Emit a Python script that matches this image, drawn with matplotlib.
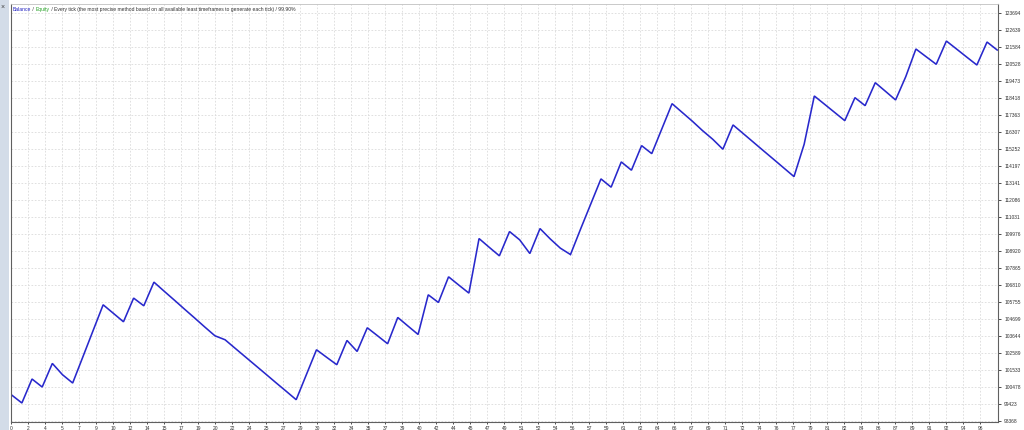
import numpy as np
import matplotlib.pyplot as plt
from matplotlib.patches import Rectangle

plt.rcParams['font.family'] = ['Liberation Sans', 'DejaVu Sans']

# balance after each trade
balance = [100000, 99508, 100994, 100498, 101960, 101260, 100746, 102360, 103980, 105595,
           105070, 104542, 106010, 105533, 106999, 106440, 105890, 105330, 104780, 104220,
           103675, 103428, 102895, 102365, 101835, 101305, 100770, 100245, 99712, 101260,
           102808, 102340, 101880, 103385, 102703, 104171, 103680, 103180, 104810, 104280,
           103756, 106215, 105738, 107329, 106820, 106320, 109701, 109160, 108630, 110135,
           109620, 108772, 110320, 109682, 109106, 108710, 110300, 111850, 113399, 112885,
           114451, 113937, 115461, 114965, 116513, 118062, 117517, 116972, 116390, 115857,
           115238, 116743, 116210, 115675, 115140, 114610, 114075, 113540, 115547, 118538,
           118030, 117520, 117009, 118434, 117939, 119363, 118830, 118292, 119735, 121450,
           120975, 120502, 121945, 121450, 120950, 120458, 121883, 121388]

x_labels = ['0', '2', '4', '5', '7', '9', '10', '12', '14', '15', '17', '19', '20', '22',
            '24', '25', '27', '29', '30', '32', '34', '35', '37', '39', '40', '42', '44',
            '45', '47', '49', '51', '52', '54', '56', '57', '59', '61', '62', '64', '66',
            '67', '69', '71', '72', '74', '76', '77', '79', '81', '82', '84', '86', '87',
            '89', '91', '92', '94', '96']

y_labels = ['98368', '99423', '100478', '101533', '102589', '103644', '104699', '105755',
            '106810', '107865', '108920', '109976', '111031', '112086', '113141', '114197',
            '115252', '116307', '117363', '118418', '119473', '120528', '121584', '122639',
            '123694']

title_parts = [('Balance', '#2020c0'), (' / ', '#303030'), ('Equity', '#20a020'),
               (' / Every tick (the most precise method based on all available least '
                'timeframes to generate each tick) / 99.90%', '#303030')]

W, H = 1024, 430
fig = plt.figure(figsize=(W / 100, H / 100), dpi=100)
fig.patch.set_facecolor('white')

# window frame strip on the left
fig.patches.append(Rectangle((0, 0), 9 / W, 1, transform=fig.transFigure,
                             facecolor='#d3dce8', edgecolor='none', zorder=0))
fig.text(3 / W, 1 - 7 / H, '×', fontsize=5, color='#404040', ha='center', va='center')

ax = fig.add_axes([11 / W, 8 / H, (998 - 11) / W, (422 - 4) / H])

trades = np.arange(len(balance))
ax.plot(trades, balance, color='#2828cc', lw=1.15, solid_joinstyle='miter')

ax.set_xlim(-0.07, 97.08)
ax.set_ylim(98330, 124240)

x_pos = (np.arange(len(x_labels)) * 17 - 0.4) / 10.16
ax.set_xticks(x_pos)
ax.set_xticklabels(x_labels)
y_vals = [int(v) for v in y_labels]
ax.set_yticks(y_vals)
ax.set_yticklabels(y_labels)

ax.yaxis.tick_right()
ax.tick_params(axis='y', direction='out', length=2.5, width=0.6, pad=2,
               labelsize=3.5, colors='#303030')
ax.tick_params(axis='x', direction='out', length=1.5, width=0.6, pad=1.5,
               labelsize=3.5, colors='#303030')

ax.grid(True, color='#dadada', linestyle=(0, (2, 2)), linewidth=0.6)
ax.set_axisbelow(True)

for side in ['left', 'bottom', 'right']:
    ax.spines[side].set_color('#606060')
    ax.spines[side].set_linewidth(0.8)
ax.spines['top'].set_color('#c0c0c0')
ax.spines['top'].set_linewidth(0.6)

# multi-coloured header inside the plot
t = ax.text(2 / (998 - 11), 1 - 3 / 418, title_parts[0][0], transform=ax.transAxes,
            fontsize=3.6, color=title_parts[0][1], ha='left', va='top')
for txt, col in title_parts[1:]:
    t = ax.annotate(txt, xy=(1, 0), xycoords=t, fontsize=3.6, color=col,
                    ha='left', va='bottom')

fig.savefig('out.png', dpi=100)
